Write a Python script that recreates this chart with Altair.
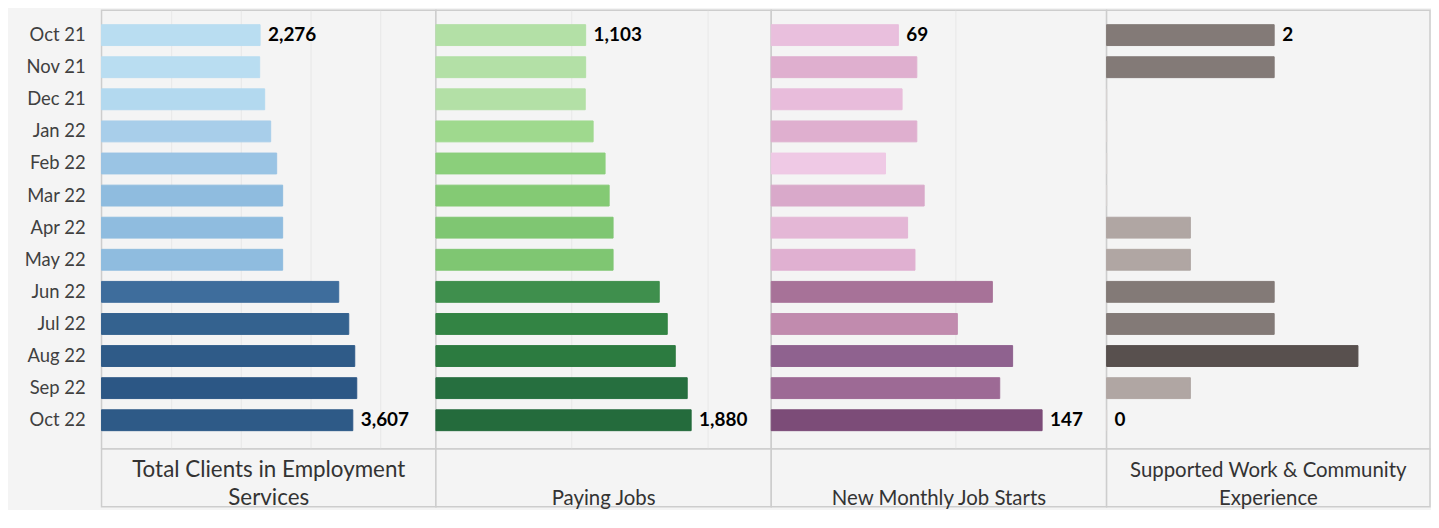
import altair as alt
import pandas as pd

# ---------------- data ----------------
months = ["Oct 21", "Nov 21", "Dec 21", "Jan 22", "Feb 22", "Mar 22", "Apr 22",
          "May 22", "Jun 22", "Jul 22", "Aug 22", "Sep 22", "Oct 22"]

clients = [2276, 2270, 2342, 2428, 2514, 2600, 2600, 2600, 3405, 3549, 3635, 3664, 3607]
paying = [1103, 1103, 1100, 1158, 1246, 1276, 1305, 1305, 1645, 1704, 1763, 1851, 1880]
job_starts = [69, 79, 71, 79, 62, 83, 74, 78, 120, 101, 131, 124, 147]
supported = [2, 2, 0, 0, 0, 0, 1, 1, 2, 2, 3, 1, 0]

clients_colors = ["#B9DDF1", "#B9DDF1", "#B3D9EF", "#A8CEEA", "#9AC4E4", "#8FBCDF", "#8FBCDF",
                  "#8FBCDF", "#3E6D9C", "#34628F", "#2F5B88", "#2C5785", "#2E5A87"]
paying_colors = ["#B3E0A6", "#B3E0A6", "#B3E0A6", "#9FD98E", "#8BCF7B", "#84CA74", "#7FC672",
                 "#7FC672", "#3F8F4D", "#338444", "#2C7B40", "#266F3F", "#246B3C"]
starts_colors = ["#E9BFDD", "#DFAFCF", "#E8BCDB", "#DFAFCF", "#EFC9E5", "#D9A9CA", "#E4B7D6",
                 "#E0B0D1", "#A77298", "#C18BAE", "#8F628F", "#9D6A95", "#7C4C78"]
supported_colors = ["#837A77", "#837A77", "#D8D3D2", "#D8D3D2", "#D8D3D2", "#D8D3D2", "#B0A6A3",
                    "#B0A6A3", "#837A77", "#837A77", "#58504E", "#B0A6A3", "#D8D3D2"]

titles = ["Total Clients in Employment\nServices", "Paying Jobs",
          "New Monthly Job Starts", "Supported Work & Community\nExperience"]

# ---------------- style ----------------
FONT = "Lato"
BG = "#F4F4F4"
BORDER = "#CDCDCD"
H_TOP = 441
H_BOT = 58
LABEL_W = 94

yscale = alt.Scale(type="band", domain=months, paddingInner=0.35, paddingOuter=0.512, align=0.44)


def panel(values, colors, xmax, ticks, width):
    df = pd.DataFrame({"month": months, "value": values, "color": colors})
    labels = [""] * len(values)
    labels[0] = f"{values[0]:,}"
    labels[-1] = f"{values[-1]:,}"
    df["label"] = labels
    y = alt.Y("month:N", scale=yscale, axis=None, sort=months)
    x = alt.X("value:Q", scale=alt.Scale(domain=[0, xmax], nice=False, zero=True),
              axis=alt.Axis(values=ticks, labels=False, ticks=False, domain=False, title=None,
                            grid=True, gridColor="#E8E8E8", gridWidth=1))
    bars = alt.Chart(df).mark_bar(strokeWidth=1).encode(
        y=y, x=x,
        color=alt.Color("color:N", scale=None),
        stroke=alt.Stroke("color:N", scale=None),
    )
    text = alt.Chart(df).transform_filter("datum.label != ''").mark_text(
        align="left", baseline="middle", dx=8, font=FONT, fontSize=19,
        fontWeight="bold", color="#000000"
    ).encode(y=y, x=x, text="label:N")
    return alt.layer(bars, text).properties(
        width=width, height=H_TOP,
        view=alt.ViewBackground(fill=BG, stroke=BORDER, strokeWidth=1.5))


def title_cell(text, y, size, width):
    df = pd.DataFrame({"t": [text]})
    return alt.Chart(df).mark_text(
        align="center", baseline="alphabetic", lineBreak="\n", font=FONT,
        fontSize=size, color="#333333", lineHeight=28
    ).encode(text="t:N", x=alt.value(width / 2), y=alt.value(y)).properties(
        width=width, height=H_BOT,
        view=alt.ViewBackground(fill=BG, stroke=BORDER, strokeWidth=1.5))


label_col = alt.Chart(pd.DataFrame({"month": months})).mark_text(
    align="right", baseline="middle", font=FONT, fontSize=18.5, color="#404040"
).encode(
    y=alt.Y("month:N", scale=yscale, axis=None, sort=months),
    x=alt.value(LABEL_W - 16),
    text="month:N",
).properties(width=LABEL_W, height=H_TOP,
             view=alt.ViewBackground(fill=BG, strokeWidth=0))

empty = alt.Chart(pd.DataFrame({"t": [" "]})).mark_text().encode(
    text="t:N", x=alt.value(0), y=alt.value(0)
).properties(width=LABEL_W, height=H_BOT, view=alt.ViewBackground(fill=BG, strokeWidth=0))

widths = [336, 337, 337, 325]
p1 = panel(clients, clients_colors, 4800, [1000, 2000, 3000, 4000], widths[0])
p2 = panel(paying, paying_colors, 2470, [1000, 2000], widths[1])
p3 = panel(job_starts, starts_colors, 182, [100], widths[2])
p4 = panel(supported, supported_colors, 3.86, [], widths[3])

t1 = title_cell(titles[0], 28, 22.5, widths[0])
t2 = title_cell(titles[1], 56, 20.5, widths[1])
t3 = title_cell(titles[2], 56, 20.5, widths[2])
t4 = title_cell(titles[3], 28, 20.5, widths[3])

chart = alt.concat(label_col, p1, p2, p3, p4, empty, t1, t2, t3, t4,
                   columns=5, spacing=0, bounds="flush").properties(
    padding={"left": 0, "top": 0, "right": 0, "bottom": -2},
    background=BG,
)

chart.save("out.html", embed_options={"renderer": "svg", "actions": False})
